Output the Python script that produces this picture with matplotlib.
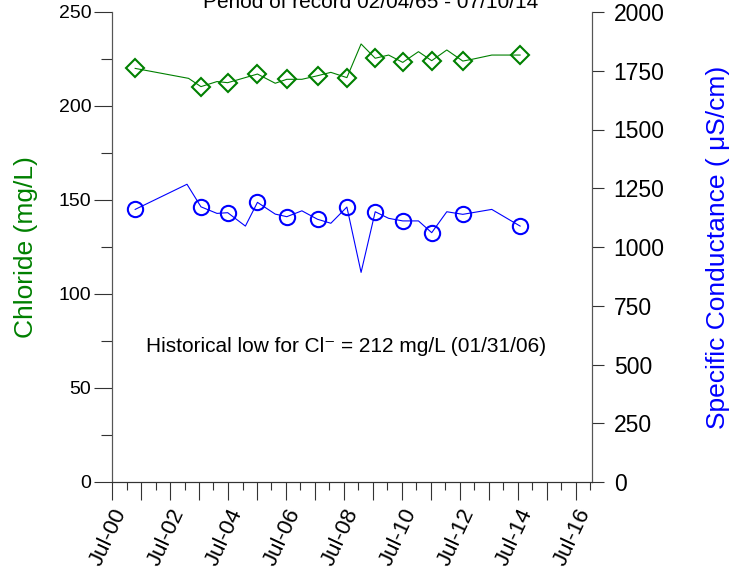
import matplotlib
matplotlib.use("Agg")
import matplotlib.pyplot as plt
import matplotlib.dates as mdates
from matplotlib.ticker import FixedLocator, MultipleLocator
import pandas as pd

plt.rcParams['font.family'] = ['Liberation Sans', 'DejaVu Sans']

# ---- data ----
cl_dates = ["2001-04-19", "2003-02-21", "2003-07-27", "2004-02-14", "2004-06-28",
            "2005-03-17", "2005-07-08", "2006-02-17", "2006-07-13", "2007-01-19",
            "2007-08-04", "2008-01-19", "2008-08-08", "2009-02-03", "2009-07-31",
            "2010-01-16", "2010-07-13", "2011-01-27", "2011-07-13", "2012-01-19",
            "2012-08-08", "2012-11-28", "2013-08-08", "2014-07-31"]
cl_values = [220, 214.7, 210.3, 213, 212.4, 215.6, 217, 212.1, 214.2, 214.2,
             216.1, 217.9, 215.1, 233, 225.4, 227.1, 223.2, 228.9, 224.1, 229.8,
             223.9, 224.8, 227.1, 227.1]
cl_marker_idx = [0, 2, 4, 6, 8, 10, 12, 14, 16, 18, 20, 23]

sc_dates = ["2001-04-19", "2003-02-01", "2003-07-27", "2004-02-14", "2004-06-28",
            "2005-02-06", "2005-07-08", "2006-02-17", "2006-07-13", "2007-01-19",
            "2007-08-04", "2008-01-19", "2008-08-08", "2009-02-03", "2009-07-31",
            "2010-01-16", "2010-07-13", "2011-01-27", "2011-07-13", "2012-01-19",
            "2012-08-08", "2013-08-08", "2014-07-31"]
sc_values = [1160, 1267, 1171, 1143, 1146, 1089, 1190, 1140, 1129, 1154,
             1118, 1101, 1170, 892, 1150, 1122, 1111, 1111, 1061, 1150,
             1139, 1160, 1089]
sc_marker_idx = [0, 2, 4, 6, 8, 10, 12, 14, 16, 18, 20, 22]

x_tick_years = list(range(2000, 2017))
x_tick_labels = ["Jul-%02d" % (y % 100) if y % 2 == 0 else "" for y in x_tick_years]

title = "Period of record 02/04/65 - 07/10/14"
note = "Historical low for Cl\u207b = 212 mg/L (01/31/06)"

GREEN = "#008000"
BLUE = "#0000ff"

fig = plt.figure(figsize=(7.38, 5.80), dpi=100)
ax = fig.add_axes([112/738, 1-482/580, 480/738, 470/580])
ax2 = ax.twinx()

cd = pd.to_datetime(cl_dates)
sd = pd.to_datetime(sc_dates)

ax.plot(cd, cl_values, color=GREEN, lw=0.8, marker="D", markevery=cl_marker_idx,
        markersize=9.2, markerfacecolor="none", markeredgecolor=GREEN, markeredgewidth=1.5,
        zorder=3)
ax2.plot(sd, sc_values, color=BLUE, lw=0.8, marker="o", markevery=sc_marker_idx,
         markersize=11, markerfacecolor="none", markeredgecolor=BLUE, markeredgewidth=1.5,
         zorder=3)

ax.set_ylim(0, 250)
ax2.set_ylim(0, 2000)
ax.set_xlim(pd.Timestamp("2000-07-01"), pd.Timestamp("2017-01-22"))

ax.yaxis.set_major_locator(MultipleLocator(50))
ax.yaxis.set_minor_locator(MultipleLocator(25))
ax2.yaxis.set_major_locator(MultipleLocator(250))

major_pos = [mdates.date2num(pd.Timestamp("%d-07-01" % y)) for y in x_tick_years]
minor_pos = [mdates.date2num(pd.Timestamp("%d-01-01" % (y + 1))) for y in x_tick_years]
ax.xaxis.set_major_locator(FixedLocator(major_pos))
ax.xaxis.set_minor_locator(FixedLocator(minor_pos))
ax.set_xticklabels(x_tick_labels, rotation=65, ha="right", va="top", rotation_mode="anchor")

for a in (ax, ax2):
    a.spines["top"].set_visible(False)
    a.spines["left"].set_color("#555555")
    a.spines["right"].set_color("#555555")
    a.spines["bottom"].set_color("#333333")

ax.tick_params(axis="y", which="major", direction="out", length=13, width=0.8,
               labelsize=14, pad=2, colors="#333333", labelcolor="black")
ax.tick_params(axis="y", which="minor", direction="out", length=8, width=0.8, colors="#333333")
ax2.tick_params(axis="y", which="major", direction="out", length=8.6, width=0.8,
                labelsize=16.5, pad=7, colors="#333333", labelcolor="black")
ax.tick_params(axis="x", which="major", direction="out", length=13, width=0.8,
               labelsize=16, pad=4, colors="#333333", labelcolor="black")
ax.tick_params(axis="x", which="minor", direction="out", length=6, width=0.8, colors="#333333")

ax.set_ylabel("Chloride (mg/L)", color=GREEN, fontsize=19)
ax.yaxis.set_label_coords((38-112)/480, 0.5)
ax2.set_ylabel("Specific Conductance ( \u03bcS/cm)", color=BLUE, fontsize=19)
ax2.yaxis.set_label_coords((706-112)/480, 0.5)

fig.text(371/738, 1-8/580, title, ha="center", va="baseline", fontsize=15)
ax.text((346-112)/480, (482-347)/470, note, transform=ax.transAxes,
        ha="center", va="center", fontsize=15)

fig.savefig("out.png", dpi=100)
